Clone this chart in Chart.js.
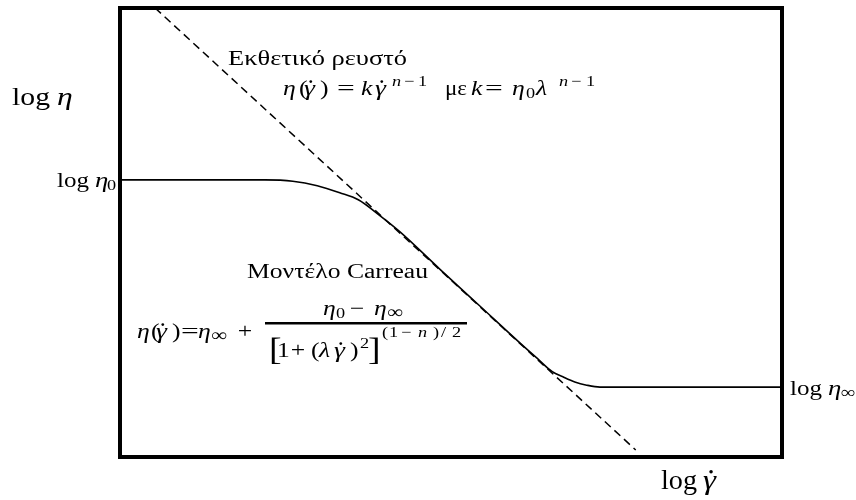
<!DOCTYPE html>
<html>
<head>
<meta charset="utf-8">
<script src="https://cdn.jsdelivr.net/npm/chart.js@4.4.1/dist/chart.umd.min.js"></script>
<style>
html, body { margin: 0; padding: 0; background: #fff; }
#wrap { width: 856px; height: 500px; }
</style>
</head>
<body>
<div id="wrap"><canvas id="carreau"></canvas></div>
<script>
// log(shear rate) / log(viscosity) along the Carreau curve
const logShear = [0, 2.19, 2.61, 2.98, 3.32, 3.60, 3.93, 4.23, 4.83, 5.44, 6.04, 6.30, 6.53, 6.69, 6.87, 7.05, 7.25, 10];
const logVisc = [4.32, 4.32, 4.30, 4.23, 4.12, 4.01, 3.76, 3.51, 2.93, 2.35, 1.78, 1.54, 1.33, 1.25, 1.17, 1.12, 1.09, 1.09];

// power-law asymptote (two end points)
const powerShear = [0.53, 7.79];
const powerVisc = [7.0, 0.11];

// plateau levels marked on the left and right of the frame
const plateauLevels = [4.32, 1.09];
const plateauSubs = ['0', '∞'];

const SERIF = '"Liberation Serif", "DejaVu Serif", serif';
const rm = s => s + 'px ' + SERIF;
const it = s => 'italic ' + s + 'px ' + SERIF;
const MATH_SX = 1.22; // math glyphs are drawn a bit wider

// one piece of text; w = width to stretch to, sx = horizontal scale,
// c = centre on x, dot = dot above (gamma dot)
function put(ctx, t, x, y, font, o) {
    o = o || {};
    ctx.font = font;
    let w = ctx.measureText(t).width;
    let sx = o.w ? o.w / w : (o.sx || 1);
    if (o.c) x -= w * sx / 2;
    ctx.save();
    ctx.translate(x, y);
    ctx.scale(sx, 1);
    ctx.fillText(t, 0, 0);
    ctx.restore();
    if (o.dot) {
        let size = parseFloat(font.match(/(\d+)px/)[1]);
        ctx.beginPath();
        ctx.arc(x + w * sx * 0.62, y - size * 0.64, size * 0.065, 0, Math.PI * 2);
        ctx.fill();
    }
}
// math piece: wider glyphs by default
function m(ctx, t, x, y, font, o) {
    put(ctx, t, x, y, font, Object.assign({ sx: MATH_SX }, o || {}));
}

const framePlugin = {
    id: 'frameAndText',
    afterDraw(chart) {
        const ctx = chart.ctx;
        const a = chart.chartArea;
        const ys = chart.scales.y;
        ctx.save();
        ctx.strokeStyle = '#000';
        ctx.fillStyle = '#000';
        ctx.lineWidth = 4;
        ctx.strokeRect(a.left, a.top, a.right - a.left, a.bottom - a.top);
        ctx.textBaseline = 'alphabetic';

        // axis names
        put(ctx, 'log', 12, 105, rm(26), { w: 38 });
        m(ctx, 'η', 57, 105, it(26));
        put(ctx, 'log', 661, 489, rm(27), { w: 36 });
        m(ctx, 'γ', 703, 489, it(27), { dot: true });

        // plateau labels
        let y0 = ys.getPixelForValue(plateauLevels[0]) + 7;
        put(ctx, 'log', 57, y0, rm(22), { w: 32 });
        m(ctx, 'η', 95, y0, it(22));
        m(ctx, plateauSubs[0], 107, y0 + 3, rm(15));
        let y1 = ys.getPixelForValue(plateauLevels[1]) + 8;
        put(ctx, 'log', 790, y1, rm(22), { w: 32 });
        m(ctx, 'η', 828, y1, it(22));
        m(ctx, plateauSubs[1], 841, y1 + 3, rm(17));

        // power-law fluid
        put(ctx, 'Εκθετικό ρευστό', 228, 65, rm(20), { w: 179 });
        let b = 95;
        m(ctx, 'η', 283, b, it(21));
        m(ctx, '(', 299, b, rm(21));
        m(ctx, 'γ', 304, b, it(21), { dot: true, sx: 1.32 });
        m(ctx, ')', 320, b, rm(21));
        m(ctx, '=', 346, b, rm(21), { c: true, sx: 1.5 });
        m(ctx, 'k', 361, b, it(21));
        m(ctx, 'γ', 375, b, it(21), { dot: true, sx: 1.32 });
        m(ctx, 'n', 392, b - 9, it(15));
        m(ctx, '−', 404, b - 9, rm(15));
        m(ctx, '1', 418, b - 9, rm(15));
        put(ctx, 'με', 445, b, rm(21), { w: 22 });
        m(ctx, 'k', 471, b, it(21));
        m(ctx, '=', 494, b, rm(21), { c: true, sx: 1.5 });
        m(ctx, 'η', 512, b, it(21));
        m(ctx, '0', 526, b + 3, rm(15));
        m(ctx, 'λ', 536, b, it(21));
        m(ctx, 'n', 559, b - 9, it(15));
        m(ctx, '−', 571, b - 9, rm(15));
        m(ctx, '1', 586, b - 9, rm(15));

        // Carreau model
        put(ctx, 'Μοντέλο Carreau', 247, 278, rm(20), { w: 181 });
        b = 338;
        m(ctx, 'η', 137, b, it(21));
        m(ctx, '(', 151, b, rm(21));
        m(ctx, 'γ', 156, b, it(21), { dot: true, sx: 1.32 });
        m(ctx, ')', 172, b, rm(21));
        m(ctx, '=', 190, b, rm(21), { c: true, sx: 1.5 });
        m(ctx, 'η', 198, b, it(21));
        m(ctx, '∞', 211, b + 3, rm(18));
        m(ctx, '+', 245, b, rm(21), { c: true });
        ctx.fillRect(265, 322, 202, 2.5);
        let n = 315;
        m(ctx, 'η', 323, n, it(21));
        m(ctx, '0', 336, n + 3, rm(15));
        m(ctx, '−', 357, n, rm(21), { c: true });
        m(ctx, 'η', 374, n, it(21));
        m(ctx, '∞', 387, n + 3, rm(18));
        let d = 357;
        m(ctx, '[', 269, d + 3, rm(31));
        m(ctx, '1', 277, d, rm(21));
        m(ctx, '+', 298, d, rm(21), { c: true });
        m(ctx, '(', 311, d, rm(21));
        m(ctx, 'λ', 319, d, it(21));
        m(ctx, 'γ', 334, d, it(21), { dot: true, sx: 1.32 });
        m(ctx, ')', 350, d, rm(21));
        m(ctx, '2', 360, d - 9, rm(15));
        m(ctx, ']', 368, d + 3, rm(31));
        let s = 337;
        m(ctx, '(', 382, s, rm(15));
        m(ctx, '1', 389, s, rm(15));
        m(ctx, '−', 401, s, rm(15));
        m(ctx, 'n', 418, s, it(15));
        m(ctx, ')', 433, s, rm(15));
        m(ctx, '/', 441, s, rm(15));
        m(ctx, '2', 452, s, rm(15));
        ctx.restore();
    }
};

new Chart(document.getElementById('carreau'), {
    type: 'scatter',
    data: {
        datasets: [{
            label: 'Carreau',
            data: logShear.map((x, i) => ({ x: x, y: logVisc[i] })),
            showLine: true,
            borderColor: '#000',
            borderWidth: 1.6,
            pointRadius: 0,
            cubicInterpolationMode: 'monotone'
        }, {
            label: 'power law',
            data: powerShear.map((x, i) => ({ x: x, y: powerVisc[i] })),
            showLine: true,
            borderColor: '#000',
            borderWidth: 1.5,
            borderDash: [8, 5],
            pointRadius: 0
        }]
    },
    options: {
        responsive: true,
        maintainAspectRatio: false,
        animation: false,
        layout: { padding: { left: 120, top: 8, right: 74, bottom: 43 } },
        scales: {
            x: { type: 'linear', min: 0, max: 10, display: false },
            y: { type: 'linear', min: 0, max: 7, display: false }
        },
        plugins: { legend: { display: false }, tooltip: { enabled: false } }
    },
    plugins: [framePlugin]
});
</script>
</body>
</html>
